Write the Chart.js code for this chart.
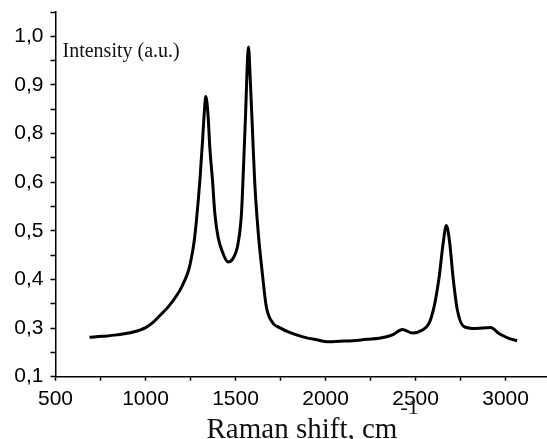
<!DOCTYPE html>
<html>
<head>
<meta charset="utf-8">
<script src="https://cdn.jsdelivr.net/npm/chart.js@4"></script>
<style>
  html, body { margin: 0; padding: 0; background: #fff; }
  #wrap { width: 547px; height: 439px; position: relative; }
</style>
</head>
<body>
<div id="wrap"><canvas id="c" width="547" height="439"></canvas></div>
<script>
// Raman shift (cm^-1)
const ramanShift = [689, 760, 840, 932, 1001, 1040, 1080, 1120, 1154, 1190, 1219, 1240, 1256, 1270, 1283, 1302, 1317, 1326, 1335, 1348, 1357, 1372, 1385, 1403, 1431, 1458, 1486, 1514, 1533, 1545, 1556, 1564, 1572, 1582, 1594, 1606, 1625, 1649, 1671, 1708, 1745, 1800, 1874, 1950, 2012, 2080, 2151, 2230, 2298, 2372, 2427, 2483, 2538, 2575, 2603, 2631, 2653, 2671, 2690, 2708, 2732, 2769, 2834, 2917, 2963, 3018, 3064];
// Intensity (position on the evenly spaced y scale)
const intensity = [0.281, 0.283, 0.286, 0.292, 0.301, 0.311, 0.326, 0.341, 0.357, 0.377, 0.399, 0.420, 0.446, 0.478, 0.522, 0.604, 0.686, 0.741, 0.776, 0.734, 0.672, 0.604, 0.536, 0.487, 0.453, 0.436, 0.443, 0.474, 0.536, 0.638, 0.741, 0.830, 0.878, 0.809, 0.707, 0.604, 0.501, 0.412, 0.344, 0.310, 0.301, 0.291, 0.282, 0.276, 0.272, 0.273, 0.274, 0.277, 0.279, 0.286, 0.297, 0.290, 0.296, 0.310, 0.344, 0.405, 0.474, 0.511, 0.474, 0.405, 0.337, 0.303, 0.299, 0.301, 0.289, 0.279, 0.274];
// Tick labels as printed on the y axis (evenly spaced, bottom to top)
const yTickLabels = ["0,1", "0,3", "0,4", "0,5", "0,6", "0,8", "0,9", "1,0"];
// Labelled x ticks; a minor tick sits halfway between each pair
const xTickLabels = [500, 1000, 1500, 2000, 2500, 3000];
const yAxisTitle = "Intensity (a.u.)";
const xAxisTitle = "Raman shift, cm";
const xAxisTitleSup = "-1";

const points = ramanShift.map((x, i) => ({ x: x, y: intensity[i] }));

const titlesPlugin = {
  id: 'titles',
  afterDraw(chart) {
    const ctx = chart.ctx;
    const ca = chart.chartArea;
    ctx.save();
    ctx.fillStyle = '#111';
    ctx.textBaseline = 'alphabetic';
    ctx.textAlign = 'left';
    ctx.font = '20px "Liberation Serif", "Times New Roman", serif';
    ctx.fillText(yAxisTitle, ca.left + 7, 57);
    ctx.font = '29px "Liberation Serif", "Times New Roman", serif';
    const tx = ca.left + 151;
    const ty = 438;
    ctx.fillText(xAxisTitle, tx, ty);
    const w = ctx.measureText(xAxisTitle).width;
    ctx.font = '22px "Liberation Serif", "Times New Roman", serif';
    ctx.fillText(xAxisTitleSup, tx + w + 3, ty - 24);
    ctx.restore();
  }
};

new Chart(document.getElementById('c'), {
  type: 'line',
  data: {
    datasets: [{
      data: points,
      borderColor: '#000',
      borderWidth: 3,
      pointRadius: 0,
      fill: false,
      cubicInterpolationMode: 'monotone'
    }]
  },
  options: {
    responsive: false,
    animation: false,
    devicePixelRatio: 1,
    layout: { padding: { top: 12, right: 0, bottom: 0, left: 0 } },
    plugins: { legend: { display: false }, tooltip: { enabled: false } },
    scales: {
      x: {
        type: 'linear',
        min: 500,
        max: 3230,
        afterFit(s) { s.height = 62.3; s.paddingLeft = 0; s.paddingRight = 0; },
        afterBuildTicks(s) {
          const t = [];
          xTickLabels.forEach((v, i) => {
            t.push({ value: v });
            if (i < xTickLabels.length - 1) t.push({ value: (v + xTickLabels[i + 1]) / 2 });
          });
          s.ticks = t;
        },
        border: { display: true, color: '#000', width: 1.5 },
        grid: { drawOnChartArea: false, drawTicks: true, tickLength: 4, tickColor: '#000', tickWidth: 1.5 },
        ticks: {
          autoSkip: false,
          maxRotation: 0,
          padding: 6,
          color: '#000',
          font: { family: '"Liberation Sans", Arial, sans-serif', size: 21 },
          callback(v) { return xTickLabels.includes(v) ? String(v) : ''; }
        }
      },
      y: {
        type: 'linear',
        min: 0.2,
        max: 0.95,
        afterFit(s) { s.width = 55.5; s.paddingTop = 0; s.paddingBottom = 0; },
        afterBuildTicks(s) {
          const t = [];
          for (let k = 0; k <= 15; k++) t.push({ value: 0.2 + k * 0.05 });
          s.ticks = t;
        },
        border: { display: true, color: '#000', width: 1.5 },
        grid: { drawOnChartArea: false, drawTicks: true, tickLength: 5, tickColor: '#000', tickWidth: 1.5 },
        ticks: {
          autoSkip: false,
          padding: 7,
          color: '#000',
          font: { family: '"Liberation Sans", Arial, sans-serif', size: 21 },
          callback(v) {
            const k = Math.round((v - 0.2) / 0.05);
            if (k % 2 !== 0) return '';
            const lbl = yTickLabels[k / 2];
            return lbl === undefined ? '' : lbl;
          }
        }
      }
    }
  },
  plugins: [titlesPlugin]
});
</script>
</body>
</html>
